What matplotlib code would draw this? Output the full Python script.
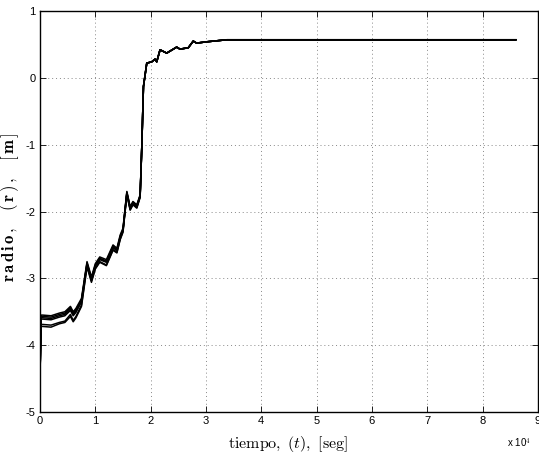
import matplotlib
matplotlib.use("Agg")
import matplotlib.pyplot as plt
import numpy as np

plt.rcParams['mathtext.fontset'] = 'cm'
plt.rcParams['font.family'] = ['Liberation Sans', 'DejaVu Sans']

# tiempo en unidades de 1e4 s
tiempo = [0.0, 0.02, 0.05, 0.2, 0.35, 0.45, 0.55, 0.6, 0.65, 0.75, 0.85, 0.93,
          1.0, 1.08, 1.2, 1.32, 1.39, 1.45, 1.5, 1.57, 1.63, 1.68, 1.75, 1.81,
          1.84, 1.87, 1.93, 2.02, 2.08, 2.11, 2.17, 2.29, 2.47, 2.53, 2.68,
          2.77, 2.83, 3.02, 3.38, 4.0, 8.6]

# trayectoria de referencia del radio [m]
radio_base = [-4.45, -3.55, -3.55, -3.56, -3.52, -3.50, -3.42, -3.50, -3.45,
              -3.30, -2.75, -2.98, -2.78, -2.68, -2.72, -2.50, -2.55, -2.35,
              -2.25, -1.70, -1.93, -1.85, -1.90, -1.75, -1.03, -0.13, 0.22,
              0.24, 0.28, 0.24, 0.42, 0.37, 0.46, 0.43, 0.45, 0.55, 0.52, 0.54,
              0.57, 0.57, 0.57]

# desviaciones de cada realizacion respecto a la referencia
desv_1 = [0.0, -0.02, -0.02, -0.02, -0.02, -0.02, -0.02, -0.02, -0.02, -0.02,
          -0.02, -0.02, -0.02, -0.02, -0.02, -0.02, -0.02, -0.02, -0.02, -0.01,
          -0.01, -0.01, -0.01, -0.01, 0.0, 0.0, 0.0, 0.0, 0.0, 0.0, 0.0, 0.0,
          0.0, 0.0, 0.0, 0.0, 0.0, 0.0, 0.0, 0.0, 0.0]
desv_2 = [0.0, -0.04, -0.04, -0.04, -0.04, -0.04, -0.04, -0.04, -0.04, -0.04,
          -0.03, -0.03, -0.03, -0.03, -0.03, -0.03, -0.03, -0.03, -0.03, -0.02,
          -0.02, -0.02, -0.02, -0.02, 0.0, 0.0, 0.0, 0.0, 0.0, 0.0, 0.0, 0.0,
          0.0, 0.0, 0.0, 0.0, 0.0, 0.0, 0.0, 0.0, 0.0]
desv_3 = [0.0, -0.06, -0.06, -0.06, -0.06, -0.06, -0.06, -0.06, -0.06, -0.05,
          -0.04, -0.04, -0.04, -0.04, -0.04, -0.04, -0.04, -0.04, -0.03, -0.03,
          -0.03, -0.03, -0.03, -0.02, 0.0, 0.0, 0.0, 0.0, 0.0, 0.0, 0.0, 0.0,
          0.0, 0.0, 0.0, 0.0, 0.0, 0.0, 0.0, 0.0, 0.0]
desv_4 = [0.0, -0.14, -0.14, -0.14, -0.14, -0.14, -0.12, -0.13, -0.12, -0.10,
          -0.06, -0.06, -0.07, -0.07, -0.08, -0.07, -0.06, -0.06, -0.05, -0.04,
          -0.04, -0.04, -0.04, -0.03, -0.01, 0.0, 0.0, 0.0, 0.0, 0.0, 0.0, 0.0,
          0.0, 0.0, 0.0, 0.0, 0.0, 0.0, 0.0, 0.0, 0.0]
desv_5 = [0.0, -0.17, -0.17, -0.17, -0.16, -0.16, -0.15, -0.15, -0.14, -0.12,
          -0.08, -0.08, -0.08, -0.08, -0.09, -0.08, -0.07, -0.07, -0.06, -0.05,
          -0.05, -0.05, -0.05, -0.04, -0.01, 0.0, 0.0, 0.0, 0.0, 0.0, 0.0, 0.0,
          0.0, 0.0, 0.0, 0.0, 0.0, 0.0, 0.0, 0.0, 0.0]

desviaciones = [np.zeros(len(tiempo)), desv_1, desv_2, desv_3, desv_4, desv_5]

xticks = list(range(0, 10))
yticks = list(range(-5, 2))

fig = plt.figure(figsize=(5.39, 4.59), dpi=100)
ax = fig.add_axes([0.0742, 0.1024, 0.9238, 0.8736])

for d in desviaciones:
    r = np.asarray(radio_base) + np.asarray(d)
    ax.plot(tiempo, r, color='black', lw=1.1)

ax.set_xlim(0, 9)
ax.set_ylim(-5, 1)
ax.set_xticks(xticks)
ax.set_yticks(yticks)
ax.set_xticklabels([str(v) for v in xticks])
ax.set_yticklabels([str(v) for v in yticks])
ax.tick_params(direction='in', top=True, right=True, labelsize=8,
               length=4, width=0.6, pad=3)
ax.grid(True, linestyle=(0, (1, 3)), color='#888888', lw=0.7)
for s in ax.spines.values():
    s.set_linewidth(1.0)

ax.set_xlabel(r'$\mathrm{tiempo,}\ (t),\ \mathrm{[seg]}$', fontsize=11.5)
ax.xaxis.set_label_coords(0.498, -0.055)
ax.set_ylabel(r'$\mathbf{r\,a\,d\,i\,o\,,}\quad\mathbf{(\,r\,)\,,}\quad\mathbf{[\,m\,]}$',
              fontsize=12)
ax.yaxis.set_label_coords(-0.038, 0.51)

fig.text(0.985, 0.035, r'x 10$^{4}$', fontsize=7, ha='right', va='center')

fig.savefig('out.png', dpi=100)
